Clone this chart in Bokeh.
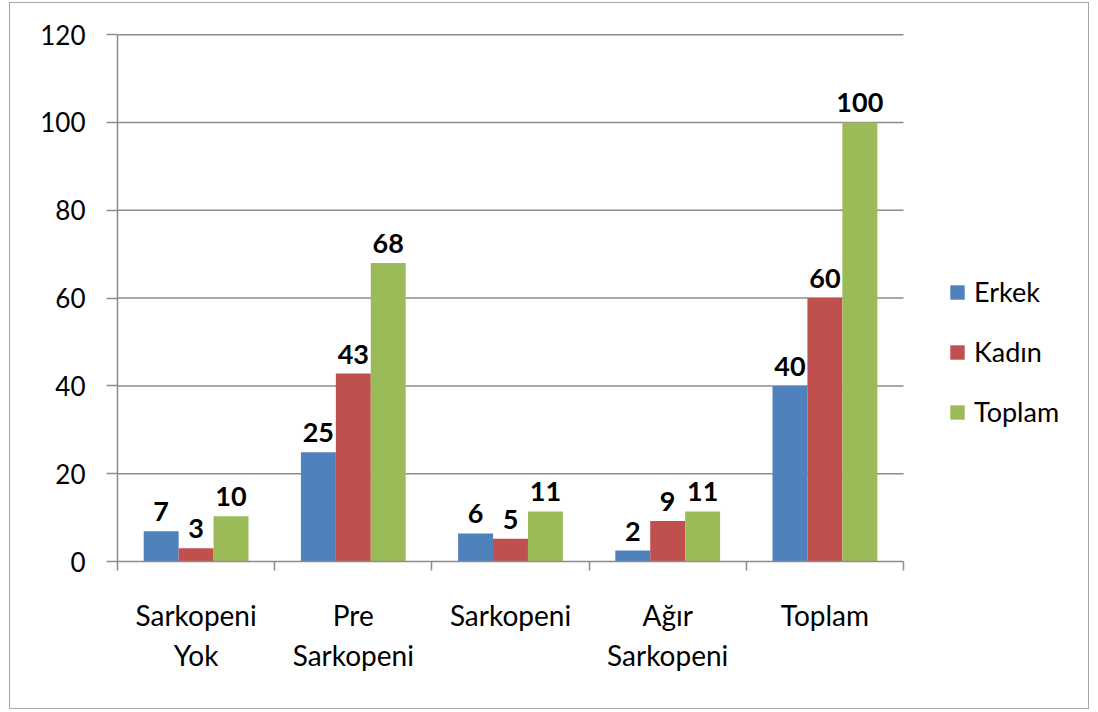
from bokeh.plotting import figure
from bokeh.models import ColumnDataSource, Range1d, FixedTicker, Legend, LegendItem
from bokeh.core.properties import value
from bokeh.embed import file_html
from bokeh.resources import INLINE

categories = ["Sarkopeni\nYok", "Pre\nSarkopeni", "Sarkopeni", "Ağır\nSarkopeni", "Toplam"]
series = ["Erkek", "Kadın", "Toplam"]
erkek = [6.9, 24.9, 6.4, 2.5, 40.0]
kadin = [3.0, 42.8, 5.2, 9.2, 60.0]
toplam = [10.3, 68.0, 11.4, 11.4, 100.0]
erkek_lbl = ["7", "25", "6", "2", "40"]
kadin_lbl = ["3", "43", "5", "9", "60"]
toplam_lbl = ["10", "68", "11", "11", "100"]
y_ticks = [0, 20, 40, 60, 80, 100, 120]
colors = ["#4F81BD", "#C0504D", "#9BBB59"]

FONT = "Lato"
GRAY = "#8c8c8c"

W, H = 1080, 707
LEFT, RIGHT, TOP, BOTTOM = 107, 17, 29, 149
CAT_SPAN_PX = 786  # pixel width of the category area
n = len(categories)
frame_w = W - LEFT - RIGHT
x_end = n * frame_w / CAT_SPAN_PX

p = figure(width=W, height=H, output_backend="svg", toolbar_location=None,
           x_range=Range1d(0, x_end), y_range=Range1d(0, 120.5),
           min_border_left=LEFT, min_border_right=RIGHT, min_border_top=TOP, min_border_bottom=BOTTOM)
p.outline_line_color = None
p.styles = {"border": "1px solid #a6a6a6", "margin-left": "9px", "margin-top": "2px"}

# horizontal gridlines limited to the category area
p.segment(x0=0, x1=n, y0=y_ticks[1:], y1=y_ticks[1:], line_color=GRAY, line_width=1.5)

bw = 1 / 4.5
vals = [erkek, kadin, toplam]
lbls = [erkek_lbl, kadin_lbl, toplam_lbl]
renderers = []
for k, (v, l, c) in enumerate(zip(vals, lbls, colors)):
    off = (k - 1) * bw
    src = ColumnDataSource(dict(x=[i + 0.5 + off for i in range(n)], top=v, lbl=l))
    r = p.vbar(x="x", top="top", bottom=0, width=bw, source=src, fill_color=c, line_color=None)
    renderers.append(r)
    p.text(x="x", y="top", text="lbl", source=src, text_align="center", text_baseline="bottom",
           y_offset=-10, text_font=value(FONT), text_font_style="bold", text_font_size="27px",
           text_color="black")

# axes
xa = p.xaxis[0]
xa.bounds = (0, n)
xa.ticker = FixedTicker(ticks=[i + 0.5 for i in range(n)], minor_ticks=list(range(n + 1)))
xa.major_label_overrides = {i + 0.5: c for i, c in enumerate(categories)}
xa.major_tick_line_color = None
xa.minor_tick_out = 9
xa.minor_tick_in = 0
xa.minor_tick_line_color = GRAY
xa.minor_tick_line_width = 1.5
xa.axis_line_color = GRAY
xa.axis_line_width = 1.5
xa.major_label_standoff = 27
xa.major_label_text_font = FONT
xa.major_label_text_font_size = "28px"
xa.major_label_text_color = "black"
xa.major_label_text_line_height = 1.2

ya = p.yaxis[0]
ya.bounds = (0, 120)
ya.ticker = FixedTicker(ticks=y_ticks, minor_ticks=[])
ya.major_tick_out = 11
ya.major_tick_in = 0
ya.major_tick_line_color = GRAY
ya.major_tick_line_width = 1.5
ya.axis_line_color = GRAY
ya.axis_line_width = 1.5
ya.major_label_standoff = 21
ya.major_label_text_font = FONT
ya.major_label_text_font_size = "26px"
ya.major_label_text_color = "black"

p.xgrid.grid_line_color = None
p.ygrid.grid_line_color = None

legend = Legend(items=[LegendItem(label=s, renderers=[r]) for s, r in zip(series, renderers)],
                location=(831, 133), orientation="vertical")
legend.border_line_color = None
legend.background_fill_alpha = 0
legend.glyph_width = 18
legend.glyph_height = 18
legend.label_standoff = 8
legend.label_text_font = FONT
legend.label_text_font_size = "27px"
legend.label_text_color = "black"
legend.label_height = 20
legend.spacing = 27
legend.padding = 0
legend.margin = 0
p.add_layout(legend, "center")

open("out.html", "w").write(file_html(p, INLINE))
